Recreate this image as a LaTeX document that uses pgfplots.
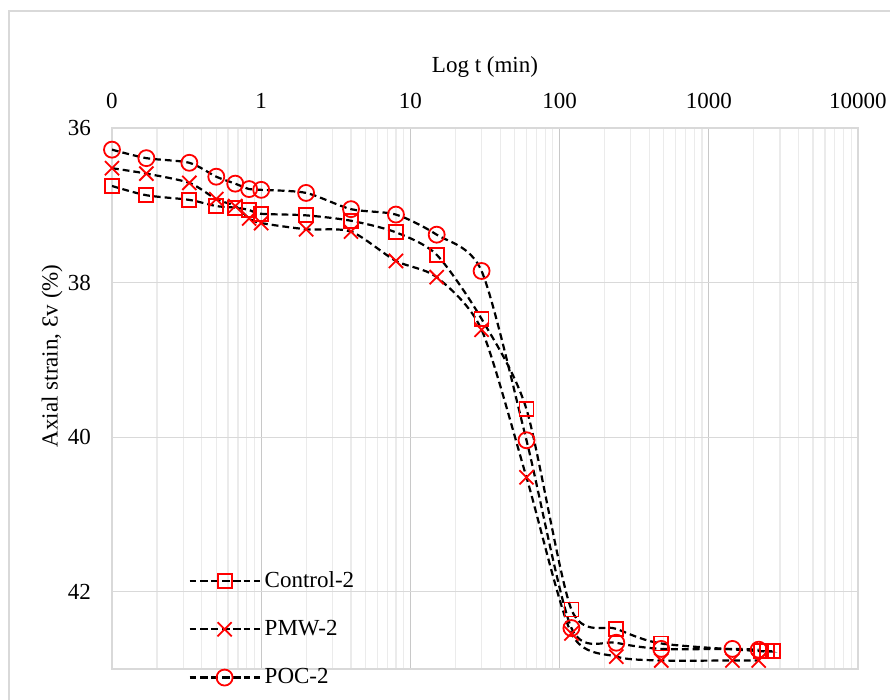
\documentclass[border=0pt]{standalone}
\usepackage{fontspec}
\setmainfont{Liberation Serif}
\usepackage{pgfplots}
\pgfplotsset{compat=1.18}

\definecolor{gridmaj}{HTML}{D9D9D9}
\definecolor{gridx}{HTML}{C8C8C8}
\definecolor{gridmin}{HTML}{EBEBEB}
\definecolor{frame}{HTML}{D9D9D9}

\pgfplotstableread{
t      eps
0.1    36.75
0.17   36.87
0.33   36.93
0.5    37.01
0.67   37.03
0.83   37.06
1      37.11
2      37.13
4      37.20
8      37.35
15     37.64
30     38.47
60     39.64
120    42.23
240    42.48
480    42.67
2240   42.77
2460   42.77
2690   42.77
}\control

\pgfplotstableread{
t      eps
0.1    36.52
0.17   36.59
0.33   36.71
0.5    36.92
0.67   37.01
0.83   37.17
1      37.23
2      37.31
4      37.34
8      37.72
15     37.93
30     38.61
60     40.52
120    42.54
240    42.84
480    42.89
1440   42.89
2160   42.89
}\pmw

\pgfplotstableread{
t      eps
0.1    36.28
0.17   36.39
0.33   36.45
0.5    36.63
0.67   36.72
0.83   36.79
1      36.80
2      36.84
4      37.05
8      37.12
15     37.38
30     37.85
60     40.04
120    42.47
240    42.66
480    42.74
1440   42.74
2160   42.75
}\poc

\begin{document}
\begin{tikzpicture}
  \useasboundingbox (-56pt,-15.5pt) rectangle (389pt,334.5pt);
  \draw[frame, line width=0.6pt] (-51.5pt,-20pt) -- (-51.5pt,329pt) -- (400pt,329pt);
  \begin{axis}[
    at={(0,0)}, anchor=south west,
    scale only axis,
    width=373pt,
    height=270.5pt,
    xmode=log,
    xmin=0.1, xmax=10000,
    ymin=36, ymax=43,
    y dir=reverse,
    xtick={0.1,1,10,100,1000,10000},
    xticklabels={0,1,10,100,1000,10000},
    ytick={36,38,40,42},
    xticklabel pos=right,
    tick style={draw=none},
    grid=both,
    major x grid style={gridx, line width=0.6pt},
    major y grid style={gridmaj, line width=0.6pt},
    minor grid style={gridmin, line width=0.6pt},
    axis line style={gridmaj, line width=0.6pt},
    /pgf/number format/assume math mode=true,
    ticklabel style={font=\fontsize{11.5}{13}\selectfont},
    xticklabel style={yshift=6pt},
    yticklabel style={xshift=-7pt},
    xlabel={Log t (min)},
    ylabel={Axial strain, Ɛv (\%)},
    label style={font=\fontsize{11.5}{13}\selectfont},
    xlabel style={at={(axis description cs:0.5,1.113)}, anchor=center},
    ylabel style={at={(axis description cs:-0.0804,0.579)}, anchor=center, rotate=0},
    legend style={draw=none, fill=none, at={(axis description cs:0.094,0.074)},
      anchor=west, row sep=11pt, font=\fontsize{11.5}{13}\selectfont},
    legend cell align=left,
    legend image code/.code={%
      \draw[mark repeat=2, mark phase=2, #1]
        plot coordinates {(0pt,0pt) (17.5pt,0pt) (35pt,0pt)};},
    line plot/.style={black, line width=1.1pt,
      dash pattern=on 3.4pt off 2pt, smooth, tension=0.45},
  ]
    \addplot[line plot, mark=square, mark size=3.5pt,
      mark options={red, solid, line width=0.9pt, fill=none}]
      table[x=t, y=eps] {\control};
    \addplot[line plot, mark=x, mark size=5pt,
      mark options={red, solid, line width=0.9pt}]
      table[x=t, y=eps] {\pmw};
    \addplot[line plot, mark=o, mark size=4pt,
      mark options={red, solid, line width=0.9pt, fill=none}]
      table[x=t, y=eps] {\poc};
    \legend{Control-2, PMW-2, POC-2}
  \end{axis}
\end{tikzpicture}
\end{document}
